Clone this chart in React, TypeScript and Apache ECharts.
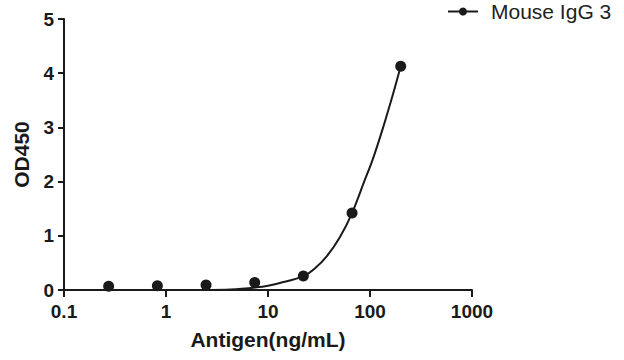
import React, { useEffect, useRef } from "react";
import * as echarts from "echarts";

const concentrations = [0.274, 0.823, 2.47, 7.41, 22.2, 66.7, 200];
const od450 = [0.07, 0.08, 0.09, 0.14, 0.26, 1.42, 4.13];

const fitX = [2.3, 4.3, 7.8, 10, 13.1, 22.2, 28.9, 37.6, 50.8, 66.7, 89, 106, 135, 169, 200];
const fitY = [0.0, 0.01, 0.05, 0.08, 0.13, 0.25, 0.4, 0.62, 0.98, 1.42, 2.03, 2.4, 3.01, 3.63, 4.13];

const xTicks = [0.1, 1, 10, 100, 1000];
const seriesName = "Mouse IgG 3";

export default function App() {
  const ref = useRef<HTMLDivElement>(null);
  useEffect(() => {
    if (!ref.current) return;
    const chart = echarts.init(ref.current, null, { renderer: "svg" });
    const font = "Liberation Sans, Arial, sans-serif";
    const color = "#1a1a1a";
    chart.setOption({
      animation: false,
      backgroundColor: "#ffffff",
      grid: { left: 64, right: 152, top: 19, bottom: 70, containLabel: false },
      legend: {
        data: [seriesName],
        left: 442,
        top: -4,
        itemWidth: 30,
        itemHeight: 10,
        textStyle: { fontFamily: font, fontSize: 21, color: "#222", padding: [0, 0, 0, 8] },
      },
      xAxis: {
        type: "log",
        logBase: 10,
        min: xTicks[0],
        max: xTicks[xTicks.length - 1],
        name: "Antigen(ng/mL)",
        nameLocation: "middle",
        nameGap: 39,
        nameTextStyle: { fontFamily: font, fontSize: 21, fontWeight: "bold", color },
        axisLine: { lineStyle: { color, width: 2 } },
        axisTick: { show: true, length: 7, lineStyle: { color, width: 2 } },
        minorTick: { show: false },
        splitLine: { show: false },
        axisLabel: {
          fontFamily: font,
          fontSize: 19,
          fontWeight: "bold",
          color,
          margin: 12,
          formatter: (v: number) => String(v),
        },
      },
      yAxis: {
        type: "value",
        min: 0,
        max: 5,
        interval: 1,
        name: "OD450",
        nameLocation: "middle",
        nameGap: 32,
        nameTextStyle: { fontFamily: font, fontSize: 21, fontWeight: "bold", color },
        axisLine: { show: true, lineStyle: { color, width: 2 } },
        axisTick: { show: true, length: 6, lineStyle: { color, width: 2 } },
        splitLine: { show: false },
        axisLabel: { fontFamily: font, fontSize: 19, fontWeight: "bold", color, margin: 10 },
      },
      series: [
        {
          name: seriesName,
          type: "line",
          data: fitX.map((x, i) => [x, fitY[i]]),
          smooth: 0.3,
          showSymbol: false,
          symbol: "circle",
          symbolSize: 10,
          lineStyle: { color, width: 2 },
          itemStyle: { color },
          z: 2,
        },
        {
          name: "points",
          type: "scatter",
          data: concentrations.map((x, i) => [x, od450[i]]),
          symbol: "circle",
          symbolSize: 11,
          itemStyle: { color, opacity: 1 },
          z: 3,
        },
      ],
    });
    return () => chart.dispose();
  }, []);
  return <div ref={ref} style={{ width: 624, height: 360, position: "absolute", left: 0, top: 0 }} />;
}
